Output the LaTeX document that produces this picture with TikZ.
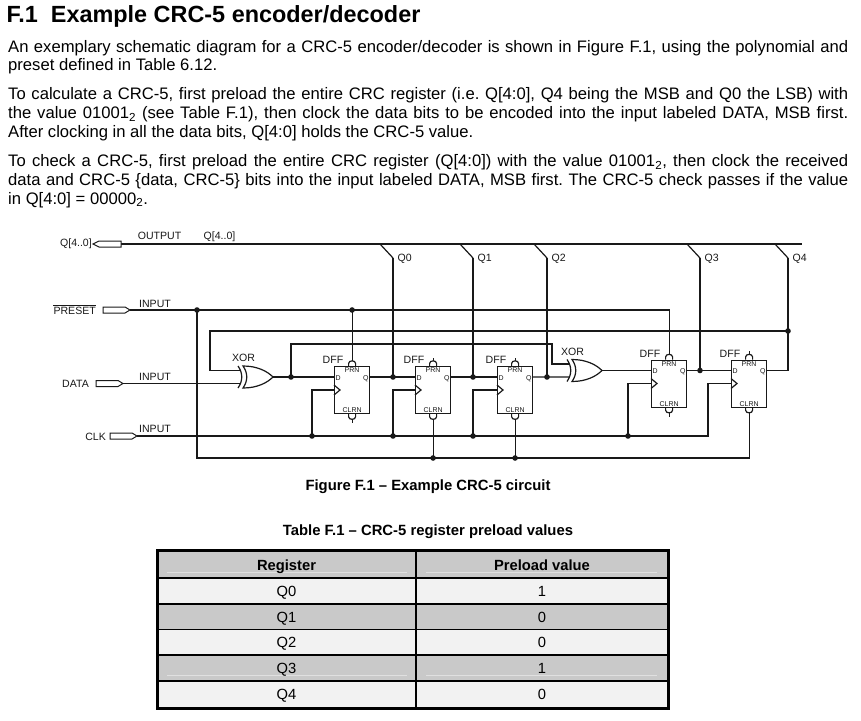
\documentclass[tikz,border=0pt]{standalone}
\usepackage{fontspec}
\setmainfont{Liberation Sans}
\usetikzlibrary{calc}
\definecolor{hdrgray}{RGB}{201,201,201}
\definecolor{rowlight}{RGB}{242,242,242}
\definecolor{hilite}{RGB}{224,224,224}
\definecolor{ink}{RGB}{25,25,25}
\tikzset{
  wire/.style={draw=ink,line width=1.2bp},
  bus/.style={draw=ink,line width=2.8bp},
  pinshape/.style={draw=ink,line width=1bp,fill=white},
  dffbox/.style={draw=ink,line width=1.2bp,fill=white,rectangle,minimum width=35bp,minimum height=47bp,inner sep=0},
  gate/.style={draw=ink,line width=1.2bp},
  lab/.style={inner sep=0,text depth=0pt,font=\fontsize{10.6}{12}\selectfont,text=ink},
  tinylab/.style={inner sep=0,text depth=0pt,font=\fontsize{7}{8}\selectfont,text=ink},
  bodyline/.style={anchor=base west,inner sep=0,font=\fontsize{16.7}{20}\selectfont\frenchspacing},
  capt/.style={inner sep=0,text depth=0pt,font=\fontsize{14.9}{17}\selectfont\bfseries},
  celltext/.style={inner sep=0,text depth=0pt,font=\fontsize{14.8}{17}\selectfont},
  junc/.style={fill=ink},
}
\newcommand\mkdff[3]{%
  \node[dffbox,anchor=north west] (#1) at (#2,#3) {};
  \coordinate (#1-d) at ($(#1.north west)+(0,11)$);
  \coordinate (#1-q) at ($(#1.north east)+(0,11)$);
  \coordinate (#1-clk) at ($(#1.north west)+(0,24)$);
  \coordinate (#1-prn) at ($(#1.north)+(0,-5.1)$);
  \coordinate (#1-clrn) at ($(#1.south)+(0,5.1)$);
  \draw[wire] ($(#1.north)+(-3.5,0)$) -- ($(#1.north)+(-3.5,-2.5)$) .. controls ($(#1.north)+(-3.5,-6)$) and ($(#1.north)+(3.5,-6)$) .. ($(#1.north)+(3.5,-2.5)$) -- ($(#1.north)+(3.5,0)$);
  \draw[wire] ($(#1.south)+(-3.5,0)$) -- ($(#1.south)+(-3.5,2.5)$) .. controls ($(#1.south)+(-3.5,6)$) and ($(#1.south)+(3.5,6)$) .. ($(#1.south)+(3.5,2.5)$) -- ($(#1.south)+(3.5,0)$);
  \draw[wire] ($(#1-clk)+(0,-5)$) -- ($(#1-clk)+(6,0)$) -- ($(#1-clk)+(0,5)$);
  \node[tinylab,anchor=west] (#1-dl) at ($(#1-d)+(1.5,0.8)$) {D};
  \node[tinylab,anchor=east] (#1-ql) at ($(#1-q)+(-1.5,1)$) {Q};
  \node[tinylab] (#1-pl) at ($(#1.north)+(0,4.5)$) {PRN};
  \node[tinylab] (#1-cl) at ($(#1.south)+(0,-4)$) {CLRN};
  \node[lab] (#1-name) at ($(#1.north west)+(-1,-6)$) {DFF};
}
\newcommand\mkxor[3]{%
  \coordinate (#1) at (#2,#3);
  \coordinate (#1-in1) at ($(#1)+(-2.6,-6.5)$);
  \coordinate (#1-in2) at ($(#1)+(-2.6,6.5)$);
  \coordinate (#1-out) at ($(#1)+(30,0)$);
  \draw[gate,fill=white] ($(#1)+(0,-11)$) .. controls ($(#1)+(14,-11)$) and ($(#1)+(24,-6)$) .. (#1-out) .. controls ($(#1)+(24,6)$) and ($(#1)+(14,11)$) .. ($(#1)+(0,11)$) .. controls ($(#1)+(5,4)$) and ($(#1)+(5,-4)$) .. cycle;
  \draw[gate] ($(#1)+(-5,11)$) .. controls ($(#1)+(0,4)$) and ($(#1)+(0,-4)$) .. ($(#1)+(-5,-11)$);
  \node[lab] (#1-name) at ($(#1)+(0.5,-19)$) {XOR};
}
\newcommand\inpin[3]{%
  \coordinate (#1) at (#2,#3);
  \draw[pinshape] ($(#1)+(-27,-3)$) -- ($(#1)+(-5,-3)$) -- (#1) -- ($(#1)+(-5,3)$) -- ($(#1)+(-27,3)$) -- cycle;
}
\begin{document}
\begin{tikzpicture}[x=1bp,y=-1bp]
\useasboundingbox (0,0) rectangle (861,721);
\fill[white] (0,0) rectangle (861,721);

% ---------- heading and text ----------
\node[anchor=base west,inner sep=0,font=\fontsize{23.5}{27}\selectfont\bfseries] (title) at (6.5,22.7) {F.1\hspace{13bp}Example CRC-5 encoder/decoder};

\node[bodyline] (p1a) at (8,52.5) {\makebox[840bp][s]{An exemplary schematic diagram for a CRC-5 encoder/decoder is shown in Figure F.1, using the polynomial and}};
\node[bodyline] (p1b) at (8,70.7) {preset defined in Table 6.12.};
\node[bodyline] (p2a) at (8,100) {\makebox[840bp][s]{To calculate a CRC-5, first preload the entire CRC register (i.e. Q[4:0], Q4 being the MSB and Q0 the LSB) with}};
\node[bodyline] (p2b) at (8,119) {\makebox[840bp][s]{the value 01001\textsubscript{2} (see Table F.1), then clock the data bits to be encoded into the input labeled DATA, MSB first.}};
\node[bodyline] (p2c) at (8,137.3) {After clocking in all the data bits, Q[4:0] holds the CRC-5 value.};
\node[bodyline] (p3a) at (8,166.5) {\makebox[840bp][s]{To check a CRC-5, first preload the entire CRC register (Q[4:0]) with the value 01001\textsubscript{2}, then clock the received}};
\node[bodyline] (p3b) at (8,185) {\makebox[840bp][s]{data and CRC-5 \{data, CRC-5\} bits into the input labeled DATA, MSB first. The CRC-5 check passes if the value}};
\node[bodyline] (p3c) at (8,204) {in Q[4:0] = 00000\textsubscript{2}.};

% ---------- circuit ----------
% output bus
\coordinate (outp) at (121,244);
\coordinate (busend) at (802,244);
\draw[bus] (outp) -- (busend);
\draw[pinshape] ($(outp)+(-28,0)$) -- ($(outp)+(-22,-3)$) -- ($(outp)+(0,-3)$) -- ($(outp)+(0,3)$) -- ($(outp)+(-22,3)$) -- cycle;
\node[lab,anchor=east] (outname) at (92,243) {Q[4..0]};
\node[lab] (outtype) at (159.5,236) {OUTPUT};
\node[lab] (busname) at (219.5,236) {Q[4..0]};

% input pins
\inpin{preset}{130}{310}
\inpin{data}{123}{383.5}
\inpin{clk}{137}{436}
\node[lab,anchor=east] (presetl) at (96,311) {PRESET};
\draw[line width=0.8bp,ink] ($(presetl.north west)+(0,-1.8)$) -- ($(presetl.north east)+(0,-1.8)$);
\node[lab,anchor=east] (datal) at (89,384) {DATA};
\node[lab,anchor=east] (clkl) at (106,436.5) {CLK};
\node[lab] (in1) at (155,304) {INPUT};
\node[lab] (in2) at (155,377) {INPUT};
\node[lab] (in3) at (155,429) {INPUT};

% gates and flip-flops
\mkdff{f1}{334}{366}
\mkdff{f2}{415}{366}
\mkdff{f3}{497}{366}
\mkdff{f4}{651}{359.5}
\mkdff{f5}{731}{359.5}
\mkxor{x1}{243}{377}
\mkxor{x2}{572}{370.5}

% bus taps
\coordinate (q0) at (393,258);
\coordinate (q1) at (473,258);
\coordinate (q2) at (547,258);
\coordinate (q3) at (700,258);
\coordinate (q4) at (788,258);
\foreach \t/\n in {q0/Q0,q1/Q1,q2/Q2,q3/Q3,q4/Q4}{
  \draw[wire] ($(\t)+(-13,-14)$) -- (\t);
  \node[lab,anchor=west] (\t-l) at ($(\t)+(4.5,0)$) {\n};
}
\draw[wire] (q0) -- (q0 |- f1-q);
\draw[wire] (q1) -- (q1 |- f2-q);
\draw[wire] (q2) -- (q2 |- f3-q);
\draw[wire] (q3) -- (q3 |- f4-q);
\draw[wire] (q4) -- (q4 |- f5-q) -- (f5-q);

% preset / clear network
\coordinate (jp) at (197,310);
\coordinate (jb) at (197,458);
\draw[wire] (preset) -- (preset -| f4-prn) -- (f4-prn);
\draw[wire] (jp) -- (jb) -- (jb -| f5-clrn) -- (f5-clrn);
\draw[wire] (preset -| f1-prn) -- (f1-prn);
\draw[wire] (jb -| f2-clrn) -- (f2-clrn);
\draw[wire] (jb -| f3-clrn) -- (f3-clrn);
% unconnected stubs
\draw[wire] (f1-clrn) -- ($(f1-clrn)+(0,4)$);
\draw[wire] (f2-prn) -- ($(f2-prn)+(0,-3)$);
\draw[wire] (f3-prn) -- ($(f3-prn)+(0,-3)$);
\draw[wire] (f4-clrn) -- ($(f4-clrn)+(0,4)$);
\draw[wire] (f5-prn) -- ($(f5-prn)+(0,-3)$);

% data path
\coordinate (fb) at (788,331);
\coordinate (fbl) at (210,331);
\coordinate (jx) at (291,377);
\coordinate (t1) at (291,344);
\coordinate (t2) at (552,344);
\draw[wire] (data) -- (x1-in2);
\draw[wire] (fb) -- (fbl) -- (fbl |- x1-in1) -- (x1-in1);
\draw[wire] (x1-out) -- (f1-d);
\draw[wire] (jx) -- (t1) -- (t2) -- (t2 |- x2-in1) -- (x2-in1);
\draw[wire] (f1-q) -- (f2-d);
\draw[wire] (f2-q) -- (f3-d);
\draw[wire] (f3-q) -- (x2-in2);
\draw[wire] (x2-out) -- (f4-d);
\draw[wire] (f4-q) -- (f5-d);

% clock network
\coordinate (ce) at (708,436);
\coordinate (c1) at (312,436);
\coordinate (c2) at (393,436);
\coordinate (c3) at (473,436);
\coordinate (c4) at (628,436);
\draw[wire] (clk) -- (ce) -- (ce |- f5-clk) -- (f5-clk);
\draw[wire] (c1) -- (c1 |- f1-clk) -- (f1-clk);
\draw[wire] (c2) -- (c2 |- f2-clk) -- (f2-clk);
\draw[wire] (c3) -- (c3 |- f3-clk) -- (f3-clk);
\draw[wire] (c4) -- (c4 |- f4-clk) -- (f4-clk);

% junction dots
\foreach \p in {jp, jx, fb, c1, c2, c3, c4}{\fill[junc] (\p) circle[radius=2.8bp];}
\fill[junc] (preset -| f1-prn) circle[radius=2.8bp];
\fill[junc] (jb -| f2-clrn) circle[radius=2.8bp];
\fill[junc] (jb -| f3-clrn) circle[radius=2.8bp];
\fill[junc] (q0 |- f1-q) circle[radius=2.8bp];
\fill[junc] (q1 |- f2-q) circle[radius=2.8bp];
\fill[junc] (q2 |- f3-q) circle[radius=2.8bp];
\fill[junc] (q3 |- f4-q) circle[radius=2.8bp];

% ---------- captions ----------
\node[capt] (figcap) at (428,485) {Figure F.1 -- Example CRC-5 circuit};
\node[capt] (tabcap) at (428,530.5) {Table F.1 -- CRC-5 register preload values};

% ---------- table ----------
\fill[hdrgray] (157,550) rectangle (668,578);
\fill[rowlight] (157,578) rectangle (668,604);
\fill[hdrgray] (157,604) rectangle (668,629.5);
\fill[rowlight] (157,629.5) rectangle (668,655);
\fill[hdrgray] (157,655) rectangle (668,681);
\fill[rowlight] (157,681) rectangle (668,708);
\draw[hilite,line width=1bp] (167,572) -- (407,572) (426,572) -- (657,572) (167,675) -- (407,675) (426,675) -- (657,675);
\draw[line width=1.8bp] (157,578) -- (668,578) (157,604) -- (668,604) (157,629.5) -- (668,629.5) (157,655) -- (668,655) (157,681) -- (668,681);
\draw[line width=1.8bp] (416,550) -- (416,708);
\draw[line width=3bp] (157,550) rectangle (668,708);
\node[celltext,font=\fontsize{14.8}{17}\selectfont\bfseries] (h1) at (286.5,565) {Register};
\node[celltext,font=\fontsize{14.8}{17}\selectfont\bfseries] (h2) at (542,565) {Preload value};
\node[celltext] (r0) at (286.5,591) {Q0};
\node[celltext] (v0) at (542,591) {1};
\node[celltext] (r1) at (286.5,617) {Q1};
\node[celltext] (v1) at (542,617) {0};
\node[celltext] (r2) at (286.5,642.5) {Q2};
\node[celltext] (v2) at (542,642.5) {0};
\node[celltext] (r3) at (286.5,668) {Q3};
\node[celltext] (v3) at (542,668) {1};
\node[celltext] (r4) at (286.5,694.5) {Q4};
\node[celltext] (v4) at (542,694.5) {0};
\end{tikzpicture}
\end{document}
